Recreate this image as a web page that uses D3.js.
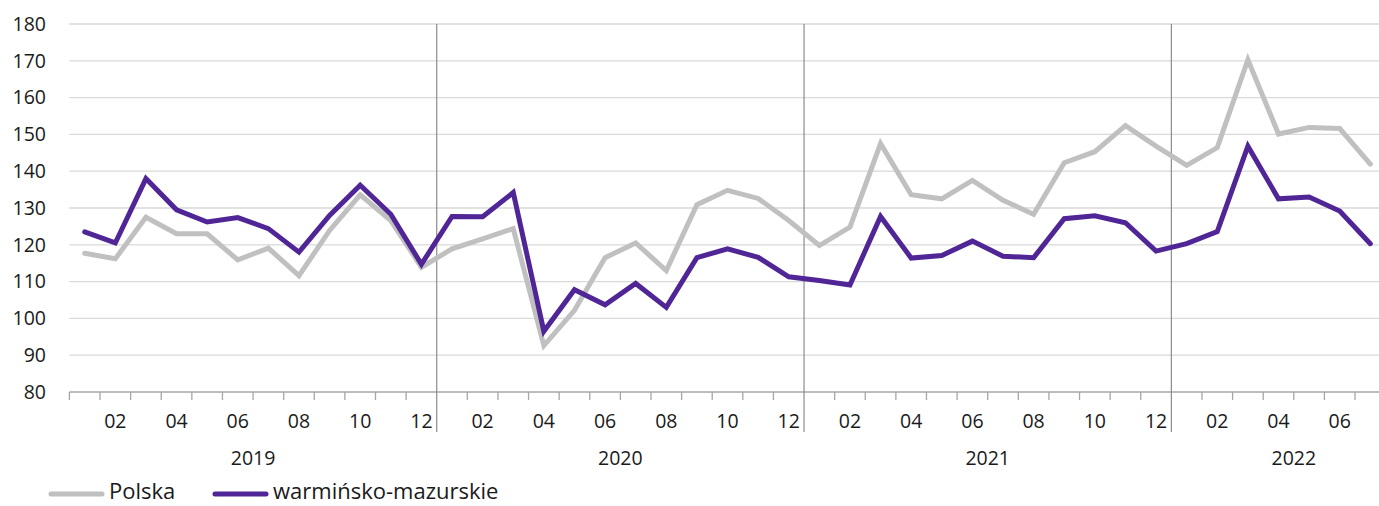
<!DOCTYPE html>
<html>
<head>
<meta charset="utf-8">
<script src="https://cdn.jsdelivr.net/npm/d3@7"></script>
<style>
  html, body { margin: 0; padding: 0; background: #ffffff; }
  svg { display: block; font-family: "Open Sans", "Noto Sans", sans-serif; }
</style>
</head>
<body>
<svg id="chart" width="1379" height="506"></svg>
<script>
// ---- data ----
const years = ["2019", "2020", "2021", "2022"];
const monthLabels = ["01","02","03","04","05","06","07","08","09","10","11","12"];
const seriesNames = ["Polska", "warmińsko-mazurskie"];
const seriesColors = ["#c0c0c0", "#502596"];
// Jan 2019 .. Jul 2022 (Aug 2022 slot empty)
const polska = [
  117.7, 116.2, 127.5, 123.0, 123.0, 115.9, 119.1, 111.6, 123.9, 133.6, 126.6, 113.9,
  118.9, 121.6, 124.4, 92.6, 102.2, 116.5, 120.5, 113.0, 130.9, 134.8, 132.6, 126.6,
  119.8, 124.8, 147.5, 133.6, 132.5, 137.5, 132.1, 128.3, 142.3, 145.3, 152.4, 146.8,
  141.6, 146.4, 170.3, 150.1, 151.9, 151.6, 141.9, null
];
const warminsko = [
  123.5, 120.5, 138.0, 129.5, 126.2, 127.4, 124.4, 118.0, 128.0, 136.2, 128.3, 114.7,
  127.7, 127.6, 134.2, 96.5, 107.8, 103.7, 109.5, 103.0, 116.5, 118.9, 116.6, 111.3,
  110.3, 109.1, 127.7, 116.4, 117.1, 121.0, 116.9, 116.5, 127.1, 127.9, 126.0, 118.3,
  120.3, 123.6, 146.8, 132.5, 133.0, 129.2, 120.3, null
];
const yTicks = [80, 90, 100, 110, 120, 130, 140, 150, 160, 170, 180];
const monthsPerYear = [12, 12, 12, 8];

// ---- build categories ----
const cats = [];
years.forEach((yr, yi) => {
  for (let m = 0; m < monthsPerYear[yi]; m++) cats.push({ key: yr + "-" + monthLabels[m], year: yr, month: monthLabels[m], m: m });
});

const svg = d3.select("#chart");
const W = 1379;
const plotLeft = 69.4, bandW = 30.61;
const plotRight = plotLeft + bandW * cats.length;
const plotTop = 24, plotBottom = 392;
const axisFont = 19.5, legendFont = 22;

const x = d3.scaleBand().domain(cats.map(d => d.key)).range([plotLeft, plotRight]).padding(0);
const y = d3.scaleLinear().domain([80, 180]).range([plotBottom, plotTop]);

// gridlines
svg.append("g").selectAll("line").data(yTicks.filter(t => t !== 80)).join("line")
  .attr("x1", plotLeft).attr("x2", W)
  .attr("y1", d => y(d)).attr("y2", d => y(d))
  .attr("stroke", "#d9d9d9").attr("stroke-width", 1.3);

// y labels
svg.append("g").selectAll("text").data(yTicks).join("text")
  .attr("x", 46).attr("y", d => y(d)).attr("dy", "0.35em")
  .attr("text-anchor", "end").attr("font-size", axisFont).attr("fill", "#1a1a1a")
  .text(d => d);

// x axis line
svg.append("line").attr("x1", plotLeft).attr("x2", W).attr("y1", plotBottom).attr("y2", plotBottom)
  .attr("stroke", "#a6a6a6").attr("stroke-width", 1.3);

// month ticks
svg.append("g").selectAll("line").data(cats.filter(c => c.m !== 0 || c.year === years[0])).join("line")
  .attr("x1", d => x(d.key)).attr("x2", d => x(d.key))
  .attr("y1", plotBottom).attr("y2", plotBottom + 8)
  .attr("stroke", "#a6a6a6").attr("stroke-width", 1.3);

// year separators
svg.append("g").selectAll("line").data(cats.filter(c => c.m === 0 && c.year !== years[0])).join("line")
  .attr("x1", d => x(d.key)).attr("x2", d => x(d.key))
  .attr("y1", plotTop).attr("y2", 432)
  .attr("stroke", "#8c8c8c").attr("stroke-width", 1.2);

// month labels (even months, only those inside the picture)
svg.append("g").selectAll("text")
  .data(cats.filter(c => (c.m + 1) % 2 === 0 && x(c.key) + x.bandwidth() < W)).join("text")
  .attr("x", d => x(d.key) + x.bandwidth() / 2).attr("y", 421).attr("dy", "0.35em")
  .attr("text-anchor", "middle").attr("font-size", axisFont).attr("fill", "#1a1a1a")
  .text(d => d.month);

// year labels
svg.append("g").selectAll("text").data(years).join("text")
  .attr("x", yr => {
    const ks = cats.filter(c => c.year === yr);
    return (x(ks[0].key) + x(ks[ks.length - 1].key) + x.bandwidth()) / 2;
  })
  .attr("y", 458).attr("dy", "0.35em")
  .attr("text-anchor", "middle").attr("font-size", axisFont).attr("fill", "#1a1a1a")
  .text(d => d);

// lines
const line = d3.line()
  .defined(d => d.v !== null)
  .x(d => x(d.key) + x.bandwidth() / 2)
  .y(d => y(d.v));

[polska, warminsko].forEach((vals, i) => {
  const pts = cats.map((c, j) => ({ key: c.key, v: vals[j] }));
  svg.append("path").datum(pts)
    .attr("d", line)
    .attr("fill", "none")
    .attr("stroke", seriesColors[i])
    .attr("stroke-width", 5)
    .attr("stroke-linejoin", "miter")
    .attr("stroke-linecap", "round");
});

// legend
const legendX = [51, 215];
const leg = svg.append("g");
seriesNames.forEach((n, i) => {
  leg.append("line").attr("x1", legendX[i]).attr("x2", legendX[i] + 51)
    .attr("y1", 494).attr("y2", 494)
    .attr("stroke", seriesColors[i]).attr("stroke-width", 5).attr("stroke-linecap", "round");
  leg.append("text").attr("x", legendX[i] + 58).attr("y", 499)
    .attr("font-size", legendFont).attr("fill", "#1a1a1a").text(n);
});
</script>
</body>
</html>
